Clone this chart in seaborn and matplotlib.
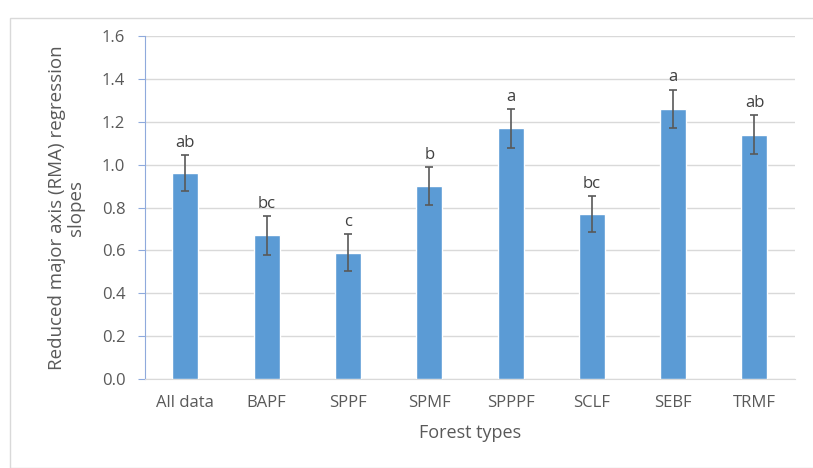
import pandas as pd
import matplotlib.pyplot as plt
import seaborn as sns
from matplotlib.patches import Rectangle

forest_types = ['All data', 'BAPF', 'SPPF', 'SPMF', 'SPPPF', 'SCLF', 'SEBF', 'TRMF']
slopes = [0.96, 0.67, 0.59, 0.90, 1.17, 0.77, 1.26, 1.14]
errors = [0.085, 0.09, 0.085, 0.09, 0.09, 0.085, 0.09, 0.09]
letters = ['ab', 'bc', 'c', 'b', 'a', 'bc', 'a', 'ab']

if __name__ == '__main__':

    df = pd.DataFrame({'type': forest_types, 'slope': slopes, 'err': errors})

    sns.set_style('white')
    plt.rcParams['font.family'] = ['Open Sans', 'DejaVu Sans']

    fig = plt.figure(figsize=(8.13, 4.68), dpi=100)
    ax = fig.add_axes([0.178, 0.19, 0.8, 0.733])

    # outer frame like the office chart area
    fig.patches.append(Rectangle((10 / 813, 0), 1.0, 1 - 18 / 468,
                                 transform=fig.transFigure, fill=False,
                                 edgecolor='#D9D9D9', linewidth=1.0))

    sns.barplot(data=df, x='type', y='slope', color='#5B9BD5', width=0.32,
                saturation=1, ax=ax, zorder=3)
    ax.errorbar(range(len(df)), df['slope'], yerr=df['err'], fmt='none',
                ecolor='#595959', elinewidth=1.2, capsize=3, capthick=1.2, zorder=4)

    for i, (v, e, lab) in enumerate(zip(slopes, errors, letters)):
        ax.annotate(lab, (i, v + e), xytext=(0, 3), textcoords='offset points',
                    ha='center', va='bottom', fontsize=12, color='#404040')

    ax.set_ylim(0, 1.6)
    ax.set_yticks([0, 0.2, 0.4, 0.6, 0.8, 1.0, 1.2, 1.4, 1.6])
    ax.set_yticklabels([f'{t:.1f}' for t in ax.get_yticks()])
    ax.set_xlim(-0.5, len(df) - 0.5)
    ax.yaxis.grid(True, color='#D9D9D9', linewidth=1.0, zorder=0)
    ax.set_axisbelow(True)

    for s in ['top', 'right']:
        ax.spines[s].set_visible(False)
    ax.spines['left'].set_color('#8FAADC')
    ax.spines['bottom'].set_color('#D9D9D9')
    ax.tick_params(axis='y', left=True, length=5, color='#8FAADC',
                   labelsize=12, labelcolor='#595959', pad=9)
    ax.tick_params(axis='x', bottom=False, labelsize=12, labelcolor='#595959', pad=8)

    ax.set_xlabel('Forest types', fontsize=13, color='#595959', labelpad=9)
    ax.set_ylabel('Reduced major axis (RMA) regression\nslopes', fontsize=13.5,
                  color='#595959', labelpad=12, linespacing=1.05)

    fig.savefig('out.png', dpi=100)
